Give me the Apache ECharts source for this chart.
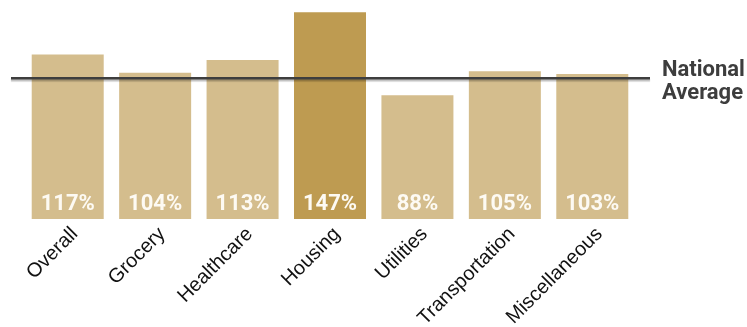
<!DOCTYPE html>
<html><head><meta charset="utf-8">
<script src="https://cdn.jsdelivr.net/npm/echarts@6/dist/echarts.min.js"></script>
<style>html,body{margin:0;padding:0;background:#fff}#c{width:747px;height:327px}</style>
</head><body><div id="c"></div>
<script>
const categories = ['Overall','Grocery','Healthcare','Housing','Utilities','Transportation','Miscellaneous'];
const values = [117,104,113,147,88,105,103];
const highlight = 'Housing';
const nationalAverage = 100;
const averageLabel = 'National\nAverage';

const chart = echarts.init(document.getElementById('c'), null, {renderer:'canvas'});
const narrow = "Roboto,'DejaVu Sans Condensed',sans-serif";
chart.setOption({
  animation:false,
  grid:[
    {left:24,right:111,top:8,bottom:108,containLabel:false,outerBoundsMode:'none'},
    {left:11,right:97,top:8,bottom:108,containLabel:false,outerBoundsMode:'none'}
  ],
  xAxis:[
    {type:'category',data:categories,gridIndex:0,
     axisLine:{show:false},axisTick:{show:false},
     axisLabel:{rotate:45,align:'right',verticalAlign:'top',margin:5,
       fontFamily:"'Liberation Sans',sans-serif",fontSize:20,color:'#111',interval:0}},
    {type:'value',gridIndex:1,min:0,max:1,show:false}
  ],
  yAxis:[
    {type:'value',gridIndex:0,min:0,max:150,show:false,splitLine:{show:false}},
    {type:'value',gridIndex:1,min:0,max:150,show:false,splitLine:{show:false}}
  ],
  series:[
    {type:'bar',xAxisIndex:0,yAxisIndex:0,barWidth:72,
     data:values.map((v,i)=>({value:v,itemStyle:{color:categories[i]===highlight?'#be9b51':'#d4bd8d'}})),
     label:{show:true,position:'insideBottom',distance:4,formatter:'{c}%',
       color:'#fdfaf3',fontWeight:'bold',fontSize:22,fontFamily:narrow}},
    {type:'line',xAxisIndex:1,yAxisIndex:1,z:5,symbol:'none',
     data:[[0,nationalAverage],[1,nationalAverage]],
     lineStyle:{color:'#3e3e3e',width:2.5,shadowColor:'rgba(0,0,0,0.25)',shadowOffsetY:2,shadowBlur:1},
     endLabel:{show:true,formatter:averageLabel,distance:12,offset:[0,4],
       color:'#3d3d3d',fontWeight:'bold',fontSize:22,lineHeight:23,fontFamily:narrow,align:'left'}}
  ]
});
</script></body></html>
